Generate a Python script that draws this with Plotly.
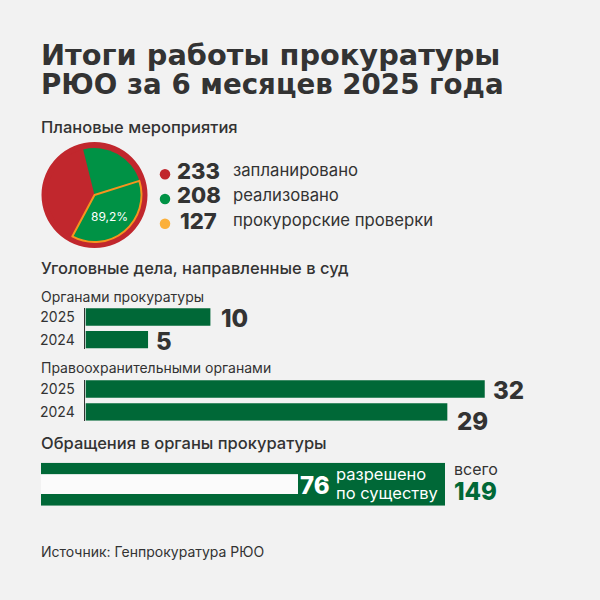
import plotly.graph_objects as go

W = H = 600
BG = "#f2f2f2"
DARK = "#333333"
BAR = "#006837"
RED = "#c1272d"
PIE_GREEN = "#009245"
ORANGE = "#f7931e"
SANS = "Inter, 'Noto Sans', sans-serif"
TITLE_FONT = "'DejaVu Sans', sans-serif"

pie_values = [129, 81, 127]
legend_keys = ["запланировано", "реализовано", "прокурорские проверки"]
legend_values = [233, 208, 127]
legend_colors = ["#c1272d", "#009245", "#fbb03b"]
years = ["2025", "2024"]
prosecutors = [10, 5]
law_enforcement = [32, 29]
appeals_total = [149]
appeals_resolved = [76]


def px(x):
    return x / W


def py(y):
    return 1 - y / H


def dom(a, b):
    return [py(b), py(a)]


fig = go.Figure()

# Pie: red disc and the sectors on it
fig.add_trace(go.Pie(values=[233], marker=dict(colors=[RED], line=dict(width=0)), textinfo="none", sort=False,
                     domain=dict(x=[px(94.5 - 53), px(94.5 + 53)], y=dom(195 - 53, 195 + 53)), showlegend=False, hoverinfo="skip"))
fig.add_trace(go.Pie(values=pie_values, sort=False, direction="clockwise", rotation=208.2, textinfo="none",
                     marker=dict(colors=[RED, PIE_GREEN, PIE_GREEN],
                                 line=dict(color=[RED, PIE_GREEN, ORANGE], width=[0, 0, 2])),
                     domain=dict(x=[px(94.5 - 47), px(94.5 + 47)], y=dom(195 - 47, 195 + 47)), showlegend=False, hoverinfo="skip"))

# Bars
fig.add_trace(go.Bar(x=prosecutors, y=years, orientation="h", marker=dict(color=BAR, line=dict(width=0)), xaxis="x", yaxis="y", showlegend=False))
fig.add_trace(go.Bar(x=law_enforcement, y=years, orientation="h", marker=dict(color=BAR, line=dict(width=0)), xaxis="x2", yaxis="y2", showlegend=False))
fig.add_trace(go.Bar(x=appeals_total, y=["всего"], orientation="h", width=1, marker=dict(color=BAR, line=dict(width=0)), xaxis="x3", yaxis="y3", showlegend=False))
fig.add_trace(go.Bar(x=appeals_resolved, y=["разрешено"], orientation="h", width=1, marker=dict(color="#fbfbfb", line=dict(width=0)), xaxis="x4", yaxis="y4", showlegend=False))

# Legend dots
fig.add_trace(go.Scatter(x=[0, 0, 0], y=legend_keys, mode="markers", marker=dict(size=10.5, color=legend_colors),
                         xaxis="x5", yaxis="y5", showlegend=False))

hidden = dict(visible=False, fixedrange=True)
X0, X1 = 84.5, 584.5
X_RANGE = [-0.096, 40]
year_axis = dict(type="category", categoryorder="array", categoryarray=years, showline=True, linecolor=DARK, linewidth=1,
                 ticks="", showgrid=False, zeroline=False, range=[1.38, -0.395],
                 tickfont=dict(family=SANS, size=14, color=DARK), ticklabelstandoff=6, fixedrange=True)
fig.update_layout(
    width=W, height=H, margin=dict(l=0, r=0, t=0, b=0), paper_bgcolor=BG, plot_bgcolor=BG,
    barmode="overlay", bargap=0.237, font=dict(family=SANS, color=DARK), hovermode=False,
    xaxis=dict(domain=[px(X0), px(X1)], range=X_RANGE, anchor="y", **hidden),
    yaxis=dict(domain=dom(308, 348.5), anchor="x", **year_axis),
    xaxis2=dict(domain=[px(X0), px(X1)], range=X_RANGE, anchor="y2", **hidden),
    yaxis2=dict(domain=dom(380, 420.8), anchor="x2", **year_axis),
    xaxis3=dict(domain=[px(41), px(445)], range=[0, appeals_total[0]], anchor="y3", **hidden),
    yaxis3=dict(domain=dom(462.7, 505.7), range=[-0.5, 0.5], anchor="x3", type="category", **hidden),
    xaxis4=dict(domain=[px(41), px(298)], range=[0, appeals_resolved[0]], anchor="y4", **hidden),
    yaxis4=dict(domain=dom(474.3, 494), range=[-0.5, 0.5], anchor="x4", type="category", **hidden),
    xaxis5=dict(domain=[px(155), px(175)], range=[-1, 1], anchor="y5", **hidden),
    yaxis5=dict(domain=dom(162, 236), range=[2.5, -0.5], anchor="x5", type="category", categoryorder="array", categoryarray=legend_keys, **hidden),
)


def text(s, x, y, size, color=DARK, weight=400, anchor="left", family=SANS):
    fig.add_annotation(text=s, x=px(x), y=py(y), xref="paper", yref="paper", xanchor=anchor, yanchor="middle",
                       showarrow=False, font=dict(family=family, size=size, color=color, weight=weight),
                       borderpad=0, borderwidth=0)


text("Итоги работы прокуратуры", 41, 55, 28.8, weight=700, family=TITLE_FONT)
text("РЮО за 6 месяцев 2025 года", 41, 85, 27.7, weight=700, family=TITLE_FONT)
text("Плановые мероприятия", 41, 127, 16.5, weight=500)
text("Уголовные дела, направленные в суд", 41, 268, 16.5, weight=500)
text("Обращения в органы прокуратуры", 41, 443, 16.5, weight=500)
text("Органами прокуратуры", 41, 296, 14)
text("Правоохранительными органами", 41, 367, 14)
text("89,2%", 110, 216, 12, color="white", anchor="center")
for v, k, y in zip(legend_values, legend_keys, [170.5, 195.5, 221]):
    text(str(v), 198.5, y, 22, weight=800, anchor="center")
    text(k, 233, y - 0.5, 16.7)
text(str(prosecutors[0]), 234, 318, 24, weight=800, anchor="center")
text(str(prosecutors[1]), 164, 341, 24, weight=800, anchor="center")
text(str(law_enforcement[0]), 508, 390, 24, weight=800, anchor="center")
text(str(law_enforcement[1]), 472, 421, 24, weight=800, anchor="center")
text(str(appeals_resolved[0]), 315, 485, 24, color="white", weight=800, anchor="center")
text("разрешено", 336, 474, 16.5, color="white")
text("по существу", 336, 493, 16.5, color="white")
text("всего", 454, 469, 16)
text(str(appeals_total[0]), 454, 491, 24, color=BAR, weight=800)
text("Источник: Генпрокуратура РЮО", 41, 551, 14)

fig.write_html("out.html", config=dict(displayModeBar=False),
               post_script="document.body.style.margin='0';document.documentElement.style.background='#f2f2f2';")
